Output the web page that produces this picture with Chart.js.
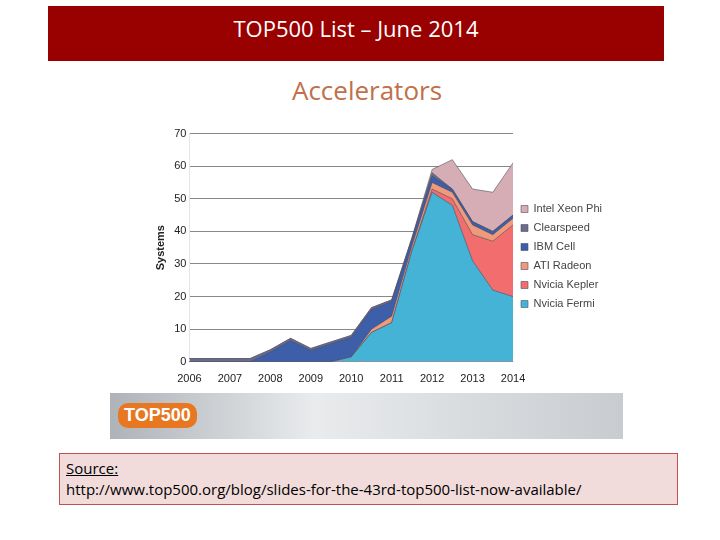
<!DOCTYPE html>
<html><head><meta charset="utf-8">
<script src="https://cdn.jsdelivr.net/npm/chart.js@4"></script>
<style>
body{margin:0;width:720px;height:540px;background:#fff;position:relative;font-family:"Open Sans",sans-serif;overflow:hidden}
#title{position:absolute;left:48px;top:6px;width:616px;height:55px;background:#990000;color:#fff;font-size:22px;text-align:center;line-height:44px}
#sub{position:absolute;left:0;width:734px;top:72px;text-align:center;color:#c0704a;font-size:26px}
#wrap{position:absolute;left:150px;top:124px;width:462px;height:265px}
#banner{position:absolute;left:110px;top:393px;width:513px;height:46px;background:linear-gradient(90deg,#aeb3b8,#e9ebed 40%,#c8ccd0);}
#banner span{position:absolute;left:8px;top:10px;background:#e87722;color:#fff;font:bold 18px Arial,sans-serif;padding:2px 6px;border-radius:10px}
#src{position:absolute;left:59px;top:453px;width:605px;height:46px;background:#f2dcdb;border:1px solid #c0504d;padding:4px 6px 0;font-size:15px;line-height:21px;color:#000}
</style></head><body>
<div id="title">TOP500 List – June 2014</div>
<div id="sub">Accelerators</div>
<div id="wrap"><canvas id="c"></canvas></div>
<div id="banner"><span>TOP500</span></div>
<div id="src"><u>Source:</u><br>http://www.top500.org/blog/slides-for-the-43rd-top500-list-now-available/</div>
<script>
// 반기별 시점 (2006 ~ 2014)
const periods = ['2006','2006.5','2007','2007.5','2008','2008.5','2009','2009.5','2010','2010.5','2011','2011.5','2012','2012.5','2013','2013.5','2014'];
const fermi      = [0,0,0,0,0,0,0,0,1.5,9,12,34,52,48,31,22,20];
const kepler     = [0,0,0,0,0,0,0,0,0,0,0,0,1,2,8,15,22];
const ati        = [0,0,0,0,0,0,0,0,0,1,2,1.5,2,2,3,2,2];
const ibmCell    = [0,0,0,0,3,6.5,3.5,5.5,6,6,4.5,2,2,1,1,1,1];
const clearspeed = [1,1,1,1,0.7,0.7,0.6,0.6,0.6,0.6,0.5,0.5,1,0,0,0,0];
const xeonPhi    = [0,0,0,0,0,0,0,0,0,0,0,0,1,9,10,12,16];

const series = [
  ['Nvicia Fermi', fermi, '#45b3d6'],
  ['Nvicia Kepler', kepler, '#f26d6d'],
  ['ATI Radeon', ati, '#f09a7c'],
  ['IBM Cell', ibmCell, '#3d5ea8'],
  ['Clearspeed', clearspeed, '#6b6d8c'],
  ['Intel Xeon Phi', xeonPhi, '#d7adb5'],
];

new Chart(document.getElementById('c'), {
  type: 'line',
  data: {
    labels: periods,
    datasets: series.map(([label, data, col]) => ({
      label, data, fill: true, backgroundColor: col, borderColor: 'rgba(80,80,100,0.6)',
      borderWidth: 1, pointRadius: 0, tension: 0,
    })),
  },
  options: {
    responsive: true, maintainAspectRatio: false, animation: false,
    plugins: {
      legend: { position: 'right', reverse: true,
        labels: { boxWidth: 7, boxHeight: 7, padding: 8, color: '#444', font: { size: 11 } } },
      tooltip: { enabled: false },
    },
    scales: {
      x: {
        ticks: { color: '#222', maxRotation: 0, autoSkip: false, font: { size: 11 },
          callback: (v, i) => i % 2 === 0 ? periods[i] : '' },
        grid: { display: false },
      },
      y: {
        stacked: true, min: 0, max: 70,
        ticks: { stepSize: 10, color: '#222', font: { size: 11 } },
        title: { display: true, text: 'Systems', color: '#222', font: { size: 11, weight: 'bold' } },
        grid: { color: '#888', drawTicks: false },
        border: { display: true },
      },
    },
  },
});
</script>
</body></html>
